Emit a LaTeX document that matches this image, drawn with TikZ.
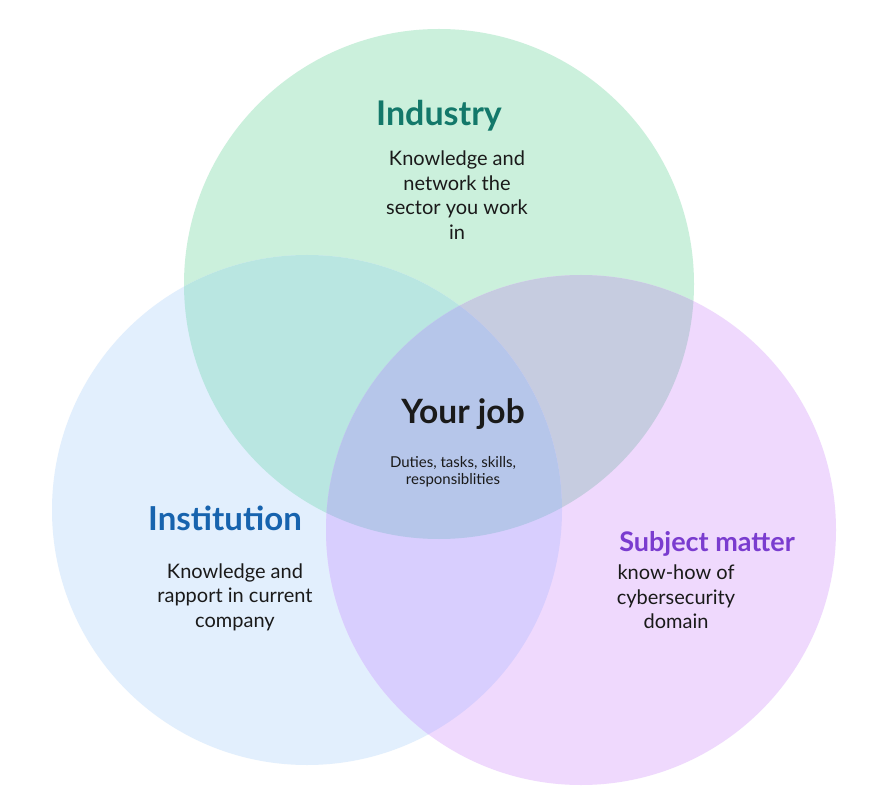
\documentclass[tikz,border=0pt]{standalone}
\usepackage{fontspec}
\setmainfont{Lato}
\definecolor{cG}{HTML}{CBF0DC}
\definecolor{cB}{HTML}{E2EFFD}
\definecolor{cP}{HTML}{EFD9FD}
\definecolor{cGB}{HTML}{B9E6E1}
\definecolor{cGP}{HTML}{C6CCE0}
\definecolor{cBP}{HTML}{D8CEFE}
\definecolor{cGBP}{HTML}{B6C6EA}
\definecolor{tInd}{HTML}{13786A}
\definecolor{tIns}{HTML}{1763AE}
\definecolor{tSub}{HTML}{7A3CCF}
\definecolor{tTxt}{HTML}{1A1A1A}
\tikzset{
  title/.style={font=\fontsize{33.5}{36}\selectfont\bfseries, inner sep=0pt},
  body/.style={font=\fontsize{20}{24.5}\selectfont, text=tTxt, align=center, inner sep=0pt},
  small/.style={font=\fontsize{15}{17}\selectfont, text=tTxt, align=center, inner sep=0pt}
}
\begin{document}
\begin{tikzpicture}[x=1pt,y=-1pt]
\useasboundingbox (0,0) rectangle (881,799);
\fill[white] (0,0) rectangle (881,799);
\def\Gc{(439,284) circle (255)}
\def\Bc{(307,510) circle (255)}
\def\Pc{(581,530) circle (255)}
\fill[cG] \Gc;
\fill[cB] \Bc;
\fill[cP] \Pc;
\begin{scope}\clip \Gc; \fill[cGB] \Bc; \end{scope}
\begin{scope}\clip \Gc; \fill[cGP] \Pc; \end{scope}
\begin{scope}\clip \Bc; \fill[cBP] \Pc; \end{scope}
\begin{scope}\clip \Gc; \clip \Bc; \fill[cGBP] \Pc; \end{scope}
\node[title, text=tInd, font=\fontsize{34}{36}\selectfont\bfseries] (ind) at (439,116) {Industry};
\node[body] (indt) at (457,195) {Knowledge and\\network the\\sector you work\\in};
\node[title, text=tTxt] (job) at (463,414) {Your job};
\node[small] (jobt) at (453,472) {Duties, tasks, skills,\\responsiblities};
\node[title, text=tIns, font=\fontsize{33}{36}\selectfont\bfseries] (ins) at (225,518) {Institution};
\node[body] (inst) at (235,597) {Knowledge and\\rapport in current\\company};
\node[title, text=tSub, font=\fontsize{27}{30}\selectfont\bfseries] (sub) at (707,544) {Subject matter};
\node[body] (subt) at (676,597) {know-how of\\cybersecurity\\domain};
\end{tikzpicture}
\end{document}
